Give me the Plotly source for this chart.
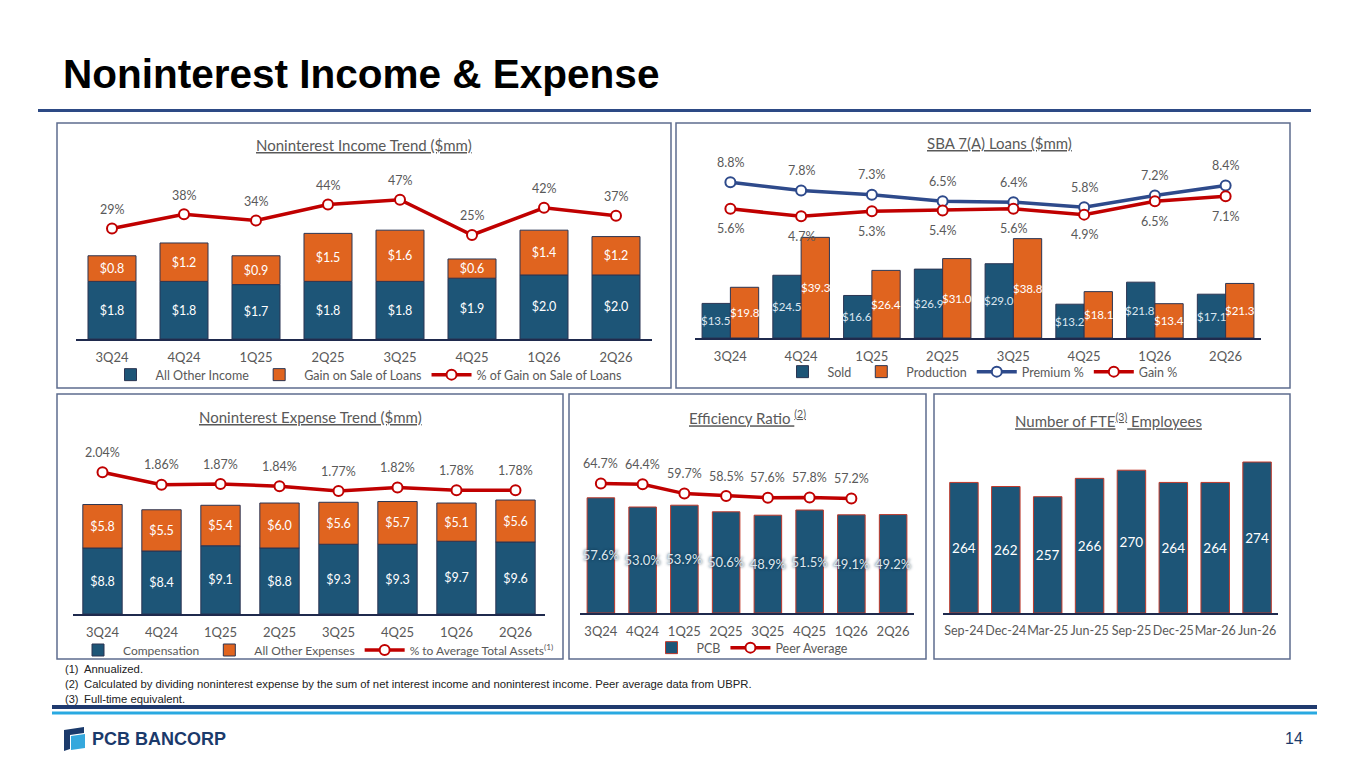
import plotly.graph_objects as go

W, H = 1365, 768


def fx(px):
    return px / W


def fy(py):
    return 1 - py / H


# ---------------- data ----------------
quarters = ["3Q24", "4Q24", "1Q25", "2Q25", "3Q25", "4Q25", "1Q26", "2Q26"]

income_other = [1.8, 1.8, 1.7, 1.8, 1.8, 1.9, 2.0, 2.0]
income_gain = [0.8, 1.2, 0.9, 1.5, 1.6, 0.6, 1.4, 1.2]
income_gain_pct = [29, 38, 34, 44, 47, 25, 42, 37]

sba_sold = [13.5, 24.5, 16.6, 26.9, 29.0, 13.2, 21.8, 17.1]
sba_production = [19.8, 39.3, 26.4, 31.0, 38.8, 18.1, 13.4, 21.3]
sba_premium_pct = [8.8, 7.8, 7.3, 6.5, 6.4, 5.8, 7.2, 8.4]
sba_gain_pct = [5.6, 4.7, 5.3, 5.4, 5.6, 4.9, 6.5, 7.1]

exp_compensation = [8.8, 8.4, 9.1, 8.8, 9.3, 9.3, 9.7, 9.6]
exp_other = [5.8, 5.5, 5.4, 6.0, 5.6, 5.7, 5.1, 5.6]
exp_pct_assets = [2.04, 1.86, 1.87, 1.84, 1.77, 1.82, 1.78, 1.78]

eff_pcb = [57.6, 53.0, 53.9, 50.6, 48.9, 51.5, 49.1, 49.2]
eff_peer = [64.7, 64.4, 59.7, 58.5, 57.6, 57.8, 57.2]

fte_months = ["Sep-24", "Dec-24", "Mar-25", "Jun-25", "Sep-25", "Dec-25", "Mar-26", "Jun-26"]
fte_count = [264, 262, 257, 266, 270, 264, 264, 274]
FTE_AXIS_MIN = 200

footnotes = [
    ("(1)", "Annualized."),
    ("(2)", "Calculated by dividing noninterest expense by the sum of net interest income and noninterest income. Peer average data from UBPR."),
    ("(3)", "Full-time equivalent."),
]

# ---------------- styles ----------------
FONT = "Lato"
GRAY = "#595959"
BLUE = "#1D5577"
ORANGE = "#E0641F"
RED = "#C00000"
NAVY_LINE = "#2E4A8B"
OUTLINE = "#2B3553"
PANEL = "#5E6C8E"

fig = go.Figure()


def bar(x, y, color, xa, ya, legend, name, text=None, base=None, width=0.667, offset=None,
        outline=OUTLINE, textcolor="white", showlegend=True, textfont_extra=None):
    tf = dict(family=FONT, size=12.5, color=textcolor)
    if textfont_extra:
        tf.update(textfont_extra)
    return go.Bar(
        x=x, y=y, base=base, name=name, xaxis=xa, yaxis=ya, legend=legend,
        marker=dict(color=color, line=dict(color=outline, width=1)),
        width=width, offset=(-width / 2 if offset is None else offset),
        text=text, textposition="inside" if text else "none", insidetextanchor="middle",
        textangle=0, constraintext="none", textfont=tf, showlegend=showlegend,
        hoverinfo="skip",
    )


def line(x, y, color, xa, ya, legend, name):
    return go.Scatter(
        x=x, y=y, name=name, xaxis=xa, yaxis=ya, legend=legend, mode="lines+markers",
        line=dict(color=color, width=3.5),
        marker=dict(size=10, color="white", line=dict(color=color, width=2)),
        hoverinfo="skip",
    )


# Panel 1 : Noninterest income
fig.add_trace(bar(quarters, income_other, BLUE, "x", "y", "legend", "All Other Income",
                  [f"${v:.1f}" for v in income_other]))
fig.add_trace(bar(quarters, income_gain, ORANGE, "x", "y", "legend", "Gain on Sale of Loans",
                  [f"${v:.1f}" for v in income_gain], base=income_other))
fig.add_trace(line(quarters, income_gain_pct, RED, "x", "y2", "legend", "% of Gain on Sale of Loans"))

# Panel 2 : SBA 7(A)  (labels drawn as annotations so they sit above neighbouring bars)
fig.add_trace(bar(quarters, sba_sold, BLUE, "x2", "y3", "legend2", "Sold",
                  width=0.4, offset=-0.4))
fig.add_trace(bar(quarters, sba_production, ORANGE, "x2", "y3", "legend2", "Production",
                  width=0.4, offset=0.0))
fig.add_trace(line(quarters, sba_premium_pct, NAVY_LINE, "x2", "y4", "legend2", "Premium %"))
fig.add_trace(line(quarters, sba_gain_pct, RED, "x2", "y4", "legend2", "Gain %"))

# Panel 3 : Noninterest expense
fig.add_trace(bar(quarters, exp_compensation, BLUE, "x3", "y5", "legend3", "Compensation",
                  [f"${v:.1f}" for v in exp_compensation]))
fig.add_trace(bar(quarters, exp_other, ORANGE, "x3", "y5", "legend3", "All Other Expenses",
                  [f"${v:.1f}" for v in exp_other], base=exp_compensation))
fig.add_trace(line(quarters, exp_pct_assets, RED, "x3", "y6", "legend3",
                   "% to Average Total Assets<sup>(1)</sup>"))

# Panel 4 : Efficiency ratio
fig.add_trace(bar(quarters, eff_pcb, BLUE, "x4", "y7", "legend4", "PCB",
                  [f"{v:.1f}%" for v in eff_pcb], width=0.66, outline="#C0392B",
                  textcolor="#DDE7EE",
                  textfont_extra=dict(size=13, shadow="0px 0px 3px #0B2A40")))
fig.add_trace(line(quarters[:len(eff_peer)], eff_peer, RED, "x4", "y7", "legend4", "Peer Average"))

# Panel 5 : FTE
fig.add_trace(bar(fte_months, [v - FTE_AXIS_MIN for v in fte_count], BLUE, "x5", "y8", "legend",
                  "FTE", [str(v) for v in fte_count], base=FTE_AXIS_MIN, width=0.68,
                  outline="#C0392B", showlegend=False, textfont_extra=dict(size=13.5)))


# ---------------- axes ----------------
def xax(x0, x1, anchor, size=13):
    return dict(domain=[fx(x0), fx(x1)], anchor=anchor, type="category", range=[-0.5, 7.5],
                showline=True, linecolor="#1F2A4D", linewidth=2, ticks="", showgrid=False,
                zeroline=False, fixedrange=True, ticklabelstandoff=5, tickangle=0,
                tickfont=dict(family=FONT, size=size, color=GRAY))


def yax(bottom, top, rng, anchor, overlaying=None):
    d = dict(domain=[fy(bottom), fy(top)], range=rng, anchor=anchor, visible=False,
             showgrid=False, zeroline=False, fixedrange=True)
    if overlaying:
        d["overlaying"] = overlaying
    return d


fig.update_layout(
    xaxis=xax(76, 652, "y"),
    yaxis=yax(339, 170, [0, 5.28], "x"),
    yaxis2=yax(339, 170, [-40, 65.6], "x", "y"),
    xaxis2=xax(695, 1261, "y3"),
    yaxis3=yax(338, 160, [0, 69.5], "x2"),
    yaxis4=yax(338, 160, [-9.96, 11.48], "x2", "y3"),
    xaxis3=xax(73, 545, "y5"),
    yaxis5=yax(614, 450, [0, 21.87], "x3"),
    yaxis6=yax(614, 450, [0, 2.36], "x3", "y5"),
    xaxis4=xax(580, 914, "y7"),
    yaxis7=yax(613, 450, [0, 81.5], "x4"),
    xaxis5=xax(943, 1278, "y8", size=12.5),
    yaxis8=yax(613, 440, [FTE_AXIS_MIN, 284.8], "x5"),
)


# ---------------- legends ----------------
def leg(xc, yc, size=12.5):
    return dict(orientation="h", x=fx(xc), y=fy(yc), xanchor="center", yanchor="middle",
                font=dict(family=FONT, size=size, color=GRAY), bgcolor="rgba(0,0,0,0)",
                itemclick=False, itemdoubleclick=False, tracegroupgap=0, itemwidth=40)


fig.update_layout(
    legend=leg(366, 375),
    legend2=leg(980, 372),
    legend3=leg(316, 650, size=12),
    legend4=leg(750, 648),
)

# ---------------- annotations ----------------
ann = []


def labels(xs, ys, xref, yref, fmt, shift, color=GRAY, size=12.5, yvals=None, xshift=0):
    yvals = ys if yvals is None else yvals
    for xv, v, yv in zip(xs, ys, yvals):
        ann.append(dict(x=xv, y=yv, xref=xref, yref=yref, text=fmt(v), showarrow=False,
                        yshift=shift, xshift=xshift,
                        font=dict(family=FONT, size=size, color=color)))


labels(quarters, income_gain_pct, "x", "y2", lambda v: f"{v}%", 19)
labels(quarters, sba_premium_pct, "x2", "y4", lambda v: f"{v:.1f}%", 20)
labels(quarters, sba_gain_pct, "x2", "y4", lambda v: f"{v:.1f}%", -20)
labels(quarters, exp_pct_assets, "x3", "y6", lambda v: f"{v:.2f}%", 20)
labels(quarters[:len(eff_peer)], eff_peer, "x4", "y7", lambda v: f"{v:.1f}%", 20)
# SBA bar labels, centred in each bar
labels(quarters, sba_sold, "x2", "y3", lambda v: f"${v:.1f}", 0, color="#DCE6F0", size=11.5,
       yvals=[v / 2 for v in sba_sold], xshift=-14.5)
labels(quarters, sba_production, "x2", "y3", lambda v: f"${v:.1f}", 0, color="white", size=11.5,
       yvals=[v / 2 for v in sba_production], xshift=14.5)

titles = [
    (364, 145, "Noninterest Income Trend ($mm)"),
    (1000, 143, "SBA 7(A) Loans ($mm)"),
    (310, 417, "Noninterest Expense Trend ($mm)"),
    (747, 417, "Efficiency Ratio <sup>(2)</sup>"),
    (1108, 420, "Number of FTE<sup>(3)</sup> Employees"),
]
for xc, yc, t in titles:
    ann.append(dict(x=fx(xc), y=fy(yc), xref="paper", yref="paper", text=f"<u>{t}</u>",
                    showarrow=False, xanchor="center", yanchor="middle",
                    font=dict(family=FONT, size=15, color=GRAY)))

# Main title
ann.append(dict(x=fx(61), y=fy(74), xref="paper", yref="paper",
                text="<b>Noninterest Income & Expense</b>", showarrow=False,
                xanchor="left", yanchor="middle",
                font=dict(family="Liberation Sans", size=40.5, color="black")))

# Footnotes
for i, (num, txt) in enumerate(footnotes):
    yy = 669 + i * 15
    ann.append(dict(x=fx(63), y=fy(yy), xref="paper", yref="paper", text=num, showarrow=False,
                    xanchor="left", yanchor="middle",
                    font=dict(family="Liberation Sans", size=11, color="#222222")))
    ann.append(dict(x=fx(82), y=fy(yy), xref="paper", yref="paper", text=txt, showarrow=False,
                    xanchor="left", yanchor="middle",
                    font=dict(family="Liberation Sans", size=11.3, color="#222222")))

# Logo text & page number
ann.append(dict(x=fx(90), y=fy(739), xref="paper", yref="paper", text="<b>PCB BANCORP</b>",
                showarrow=False, xanchor="left", yanchor="middle",
                font=dict(family="Liberation Sans", size=18, color="#1B3A6B")))
ann.append(dict(x=fx(1305), y=fy(738), xref="paper", yref="paper", text="14",
                showarrow=False, xanchor="right", yanchor="middle",
                font=dict(family="Liberation Sans", size=16, color="#1B3A6B")))

fig.update_layout(annotations=ann)

# ---------------- shapes ----------------
shapes = []


def rect(x0, y0, x1, y1):
    shapes.append(dict(type="rect", xref="paper", yref="paper", x0=fx(x0), x1=fx(x1),
                       y0=fy(y1), y1=fy(y0), line=dict(color=PANEL, width=1.5),
                       fillcolor="rgba(0,0,0,0)", layer="below"))


rect(57, 123, 671, 388)
rect(676, 123, 1290, 388)
rect(57, 394, 563, 659)
rect(569, 394, 926, 659)
rect(934, 394, 1290, 659)


def hline(x0, x1, y, color, width):
    shapes.append(dict(type="line", xref="paper", yref="paper", x0=fx(x0), x1=fx(x1),
                       y0=fy(y), y1=fy(y), line=dict(color=color, width=width)))


hline(38, 1311, 110.5, "#2D4A85", 3)
hline(52, 1317, 707, "#1F3A6E", 4)
hline(52, 1317, 713, "#29A9E1", 3)


def poly(pts, color):
    path = "M " + " L ".join(f"{fx(a):.5f},{fy(b):.5f}" for a, b in pts) + " Z"
    shapes.append(dict(type="path", xref="paper", yref="paper", path=path,
                       fillcolor=color, line=dict(width=0)))


poly([(64, 730), (84, 727), (84, 733), (70, 735), (70, 749), (64, 751)], "#1B3A6B")
poly([(71, 736), (85, 734), (85, 748), (71, 750)], "#35A8DD")

fig.update_layout(shapes=shapes)

fig.update_layout(
    width=W, height=H, margin=dict(l=0, r=0, t=0, b=0), autosize=False,
    paper_bgcolor="white", plot_bgcolor="rgba(0,0,0,0)",
    barmode="overlay", hovermode=False,
    font=dict(family=FONT, color=GRAY),
)

fig.write_html("out.html", config={"displayModeBar": False, "responsive": False},
               post_script="document.body.style.margin='0';document.body.style.overflow='hidden';")
